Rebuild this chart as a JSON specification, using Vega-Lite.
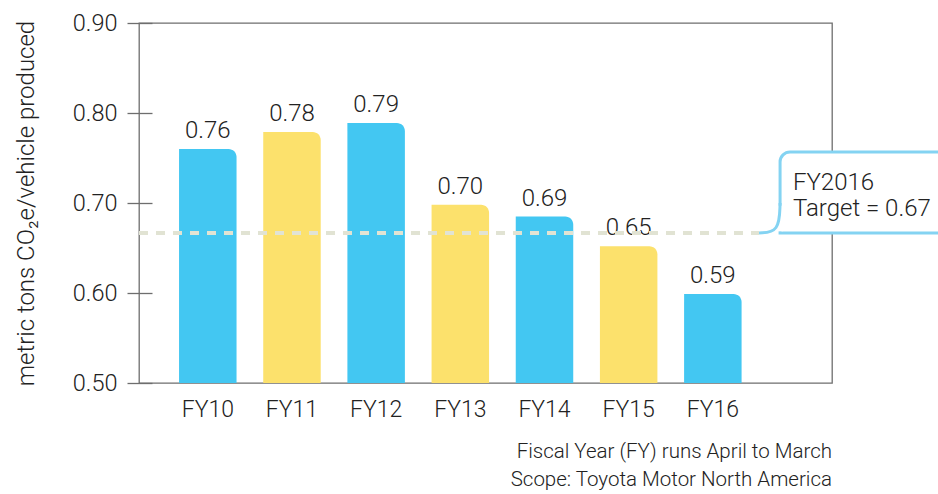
{
  "$schema": "https://vega.github.io/schema/vega-lite/v6.json",
  "width": 693,
  "height": 360,
  "autosize": {"type": "none"},
  "padding": {"left": 139, "top": 23, "right": 106, "bottom": 111},
  "config": {
    "font": "Roboto",
    "view": {"stroke": "#6e6e6e", "strokeWidth": 1.3},
    "text": {"font": "Roboto", "fontWeight": 300, "color": "#222"}
  },
  "datasets": {
    "bars": [
      {"year": "FY10", "value": 0.76, "label": "0.76", "shade": "A"},
      {"year": "FY11", "value": 0.779, "label": "0.78", "shade": "B"},
      {"year": "FY12", "value": 0.789, "label": "0.79", "shade": "A"},
      {"year": "FY13", "value": 0.698, "label": "0.70", "shade": "B"},
      {"year": "FY14", "value": 0.685, "label": "0.69", "shade": "A"},
      {"year": "FY15", "value": 0.652, "label": "0.65", "shade": "B"},
      {"year": "FY16", "value": 0.599, "label": "0.59", "shade": "A"}
    ],
    "target": [{"start": -0.817, "end": 6.55, "target": 0.6667}],
    "box": [{"x1": 6.8, "x2": 9.2, "y1": 0.6667, "y2": 0.7567}],
    "tail": [
      {"piece": "curve", "i": 0, "px": 6.55, "py": 0.6667},
      {"piece": "curve", "i": 1, "px": 6.79, "py": 0.6675},
      {"piece": "curve", "i": 2, "px": 6.8, "py": 0.70}
    ],
    "cover": [{"cx": 6.8, "cy1": 0.6685, "cy2": 0.697}],
    "note": [
      {"tx": 6.953, "ty": 0.7144, "text": "FY2016"},
      {"tx": 6.953, "ty": 0.6856, "text": "Target = 0.67"}
    ]
  },
  "title": {
    "text": ["Fiscal Year (FY) runs April to March", "Scope: Toyota Motor North America"],
    "orient": "bottom",
    "anchor": "end",
    "frame": "group",
    "font": "Roboto",
    "fontWeight": 300,
    "fontSize": 20.5,
    "lineHeight": 28,
    "color": "#222",
    "offset": 21
  },
  "layer": [
    {
      "data": {"name": "bars"},
      "encoding": {
        "x": {
          "field": "year",
          "type": "nominal",
          "sort": null,
          "scale": {"paddingInner": 0.317, "paddingOuter": 0.775, "align": 0.307},
          "axis": {
            "title": null,
            "domain": false,
            "ticks": false,
            "labelAngle": 0,
            "labelPadding": 15,
            "labelFont": "Roboto",
            "labelFontWeight": 300,
            "labelFontSize": 23,
            "labelColor": "#222"
          }
        },
        "y": {
          "field": "value",
          "type": "quantitative",
          "scale": {"domain": [0.5, 0.9], "nice": false, "zero": false},
          "axis": {
            "values": [0.5, 0.6, 0.7, 0.8, 0.9],
            "format": ".2f",
            "domain": false,
            "grid": false,
            "offset": -13,
            "tickSize": 25,
            "tickColor": "#6e6e6e",
            "tickWidth": 1.3,
            "labelPadding": 10,
            "labelFont": "Roboto",
            "labelFontWeight": 300,
            "labelFontSize": 23.5,
            "labelColor": "#222",
            "title": "metric tons CO₂e/vehicle produced",
            "titleFont": "Roboto",
            "titleFontWeight": 300,
            "titleFontSize": 24,
            "titleColor": "#222",
            "titlePadding": 34
          }
        }
      },
      "layer": [
        {
          "mark": {"type": "bar", "cornerRadiusTopRight": 8},
          "encoding": {
            "y2": {"datum": 0.5},
            "color": {
              "field": "shade",
              "type": "nominal",
              "scale": {"domain": ["A", "B"], "range": ["#43c7f2", "#fce16c"]},
              "legend": null
            }
          }
        },
        {
          "mark": {"type": "text", "baseline": "alphabetic", "dy": -11, "fontSize": 24},
          "encoding": {
            "text": {"field": "label"}
          }
        }
      ]
    },
    {
      "layer": [
        {
          "data": {"name": "target"},
          "mark": {"type": "rule", "color": "#e1e3d3", "strokeWidth": 4, "strokeDash": [9, 8]},
          "encoding": {
            "x": {"field": "start", "type": "quantitative", "scale": {"domain": [-0.817, 7.417], "nice": false, "zero": false}, "axis": null},
            "x2": {"field": "end"},
            "y": {"field": "target", "type": "quantitative"}
          }
        },
        {
          "data": {"name": "box"},
          "mark": {"type": "rect", "fill": "white", "stroke": "#84d3f2", "strokeWidth": 3, "cornerRadiusTopLeft": 10, "cornerRadiusTopRight": 10, "cornerRadiusBottomRight": 10},
          "encoding": {
            "x": {"field": "x1", "type": "quantitative"},
            "x2": {"field": "x2"},
            "y": {"field": "y1", "type": "quantitative"},
            "y2": {"field": "y2"}
          }
        },
        {
          "data": {"name": "cover"},
          "mark": {"type": "rule", "color": "white", "strokeWidth": 5},
          "encoding": {
            "x": {"field": "cx", "type": "quantitative"},
            "y": {"field": "cy1", "type": "quantitative"},
            "y2": {"field": "cy2"}
          }
        },
        {
          "data": {"name": "tail"},
          "mark": {"type": "line", "color": "#84d3f2", "strokeWidth": 3, "interpolate": "basis"},
          "encoding": {
            "x": {"field": "px", "type": "quantitative"},
            "y": {"field": "py", "type": "quantitative"},
            "order": {"field": "i"},
            "detail": {"field": "piece"}
          }
        },
        {
          "data": {"name": "note"},
          "mark": {"type": "text", "align": "left", "baseline": "alphabetic", "fontSize": 24},
          "encoding": {
            "x": {"field": "tx", "type": "quantitative"},
            "y": {"field": "ty", "type": "quantitative"},
            "text": {"field": "text"}
          }
        }
      ]
    }
  ],
  "resolve": {"scale": {"x": "independent"}, "axis": {"x": "independent"}}
}
